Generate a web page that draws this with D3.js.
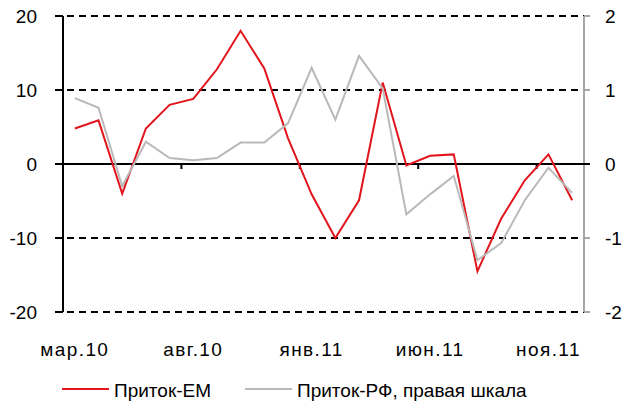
<!DOCTYPE html>
<html>
<head>
<meta charset="utf-8">
<script src="https://cdn.jsdelivr.net/npm/d3@7"></script>
<style>
  body { margin: 0; background: #fff; }
  svg { display: block; font-family: "Liberation Sans", Arial, sans-serif; }
</style>
</head>
<body>
<svg id="chart" width="623" height="403"></svg>
<script>
// months on the x axis
var months = ["мар.10", "апр.10", "май.10", "июн.10", "июл.10", "авг.10", "сен.10", "окт.10",
    "ноя.10", "дек.10", "янв.11", "фев.11", "мар.11", "апр.11", "май.11", "июн.11",
    "июл.11", "авг.11", "сен.11", "окт.11", "ноя.11", "дек.11"];

// Приток-ЕМ (left scale)
var inflowEM = [4.8, 5.9, -4.0, 4.8, 8.0, 8.8, 12.8, 18.0, 12.9, 3.5, -4.1, -10.0,
    -4.9, 11.0, -0.2, 1.1, 1.3, -14.5, -7.4, -2.2, 1.3, -4.9];

// Приток-РФ (right scale)
var inflowRF = [0.89, 0.76, -0.30, 0.30, 0.08, 0.05, 0.08, 0.29, 0.29, 0.55, 1.30, 0.60,
    1.46, 1.02, -0.68, -0.41, -0.16, -1.30, -1.07, -0.49, -0.05, -0.39];

var leftTicks = [-20, -10, 0, 10, 20];
var rightTicks = [-2, -1, 0, 1, 2];
var labelEvery = 5;

var legendNames = ["Приток-ЕМ", "Приток-РФ, правая шкала"];
var red = "#e2141c", grey = "#b9b9b9";

var svg = d3.select("#chart");
var plotLeft = 63, plotRight = 584, plotTop = 16, plotBottom = 312;

var x = d3.scaleBand().domain(months).range([plotLeft, plotRight]).padding(0);
var yL = d3.scaleLinear().domain([-20, 20]).range([plotBottom, plotTop]);
var yR = d3.scaleLinear().domain([-2, 2]).range([plotBottom, plotTop]);

var fontSize = "19px";

// dashed grid (also covers the outer tick marks)
svg.append("g").selectAll("line")
    .data(leftTicks.filter(function(d) { return d !== 0; }))
    .enter().append("line")
    .attr("x1", plotLeft - 8).attr("x2", plotRight + 6)
    .attr("y1", function(d) { return yL(d); })
    .attr("y2", function(d) { return yL(d); })
    .attr("stroke", "#000")
    .attr("stroke-width", 2)
    .attr("stroke-dasharray", "7,5");

// right axis (grey)
svg.append("line")
    .attr("x1", plotRight).attr("x2", plotRight)
    .attr("y1", plotTop).attr("y2", plotBottom)
    .attr("stroke", "#a6a6a6").attr("stroke-width", 2);
svg.append("g").selectAll("line")
    .data(rightTicks)
    .enter().append("line")
    .attr("x1", plotRight).attr("x2", plotRight + 6)
    .attr("y1", function(d) { return yR(d); })
    .attr("y2", function(d) { return yR(d); })
    .attr("stroke", "#a6a6a6").attr("stroke-width", 2);

// left axis
svg.append("line")
    .attr("x1", plotLeft).attr("x2", plotLeft)
    .attr("y1", plotTop).attr("y2", plotBottom)
    .attr("stroke", "#000").attr("stroke-width", 2);
svg.append("g").selectAll("line")
    .data(leftTicks)
    .enter().append("line")
    .attr("x1", plotLeft - 8).attr("x2", plotLeft)
    .attr("y1", function(d) { return yL(d); })
    .attr("y2", function(d) { return yL(d); })
    .attr("stroke", "#000").attr("stroke-width", 2);

// zero line / category axis
svg.append("line")
    .attr("x1", plotLeft - 8).attr("x2", plotRight + 6)
    .attr("y1", yL(0)).attr("y2", yL(0))
    .attr("stroke", "#000").attr("stroke-width", 2);

// category tick marks between groups
var tickIdx = d3.range(labelEvery, months.length, labelEvery);
svg.append("g").selectAll("line")
    .data(tickIdx)
    .enter().append("line")
    .attr("x1", function(i) { return x(months[i]); })
    .attr("x2", function(i) { return x(months[i]); })
    .attr("y1", yL(0)).attr("y2", yL(0) + 5)
    .attr("stroke", "#000").attr("stroke-width", 2);

// left labels
svg.append("g").selectAll("text")
    .data(leftTicks)
    .enter().append("text")
    .attr("x", 37)
    .attr("y", function(d) { return yL(d); })
    .attr("dy", "0.36em")
    .attr("text-anchor", "end")
    .attr("font-size", fontSize)
    .text(function(d) { return d; });

// right labels
svg.append("g").selectAll("text")
    .data(rightTicks)
    .enter().append("text")
    .attr("x", 605)
    .attr("y", function(d) { return yR(d); })
    .attr("dy", "0.36em")
    .attr("font-size", fontSize)
    .text(function(d) { return d; });

// month labels
svg.append("g").selectAll("text")
    .data(months.filter(function(d, i) { return i % labelEvery === 0; }))
    .enter().append("text")
    .attr("x", function(d) { return x(d) + x.bandwidth() / 2; })
    .attr("y", 356)
    .attr("text-anchor", "middle")
    .attr("font-size", fontSize)
    .attr("letter-spacing", "1.4px")
    .text(function(d) { return d; });

// lines
var lineL = d3.line()
    .x(function(d, i) { return x(months[i]) + x.bandwidth() / 2; })
    .y(function(d) { return yL(d); });
var lineR = d3.line()
    .x(function(d, i) { return x(months[i]) + x.bandwidth() / 2; })
    .y(function(d) { return yR(d); });

svg.append("path")
    .datum(inflowEM)
    .attr("d", lineL)
    .attr("fill", "none")
    .attr("stroke", red)
    .attr("stroke-width", 2);

svg.append("path")
    .datum(inflowRF)
    .attr("d", lineR)
    .attr("fill", "none")
    .attr("stroke", grey)
    .attr("stroke-width", 2);

// legend
var legend = [
    {name: legendNames[0], color: red, x0: 62},
    {name: legendNames[1], color: grey, x0: 245}
];
var lg = svg.append("g").selectAll("g")
    .data(legend)
    .enter().append("g");
lg.append("line")
    .attr("x1", function(d) { return d.x0; })
    .attr("x2", function(d) { return d.x0 + 47; })
    .attr("y1", 389).attr("y2", 389)
    .attr("stroke", function(d) { return d.color; })
    .attr("stroke-width", 2);
lg.append("text")
    .attr("x", function(d) { return d.x0 + 52; })
    .attr("y", 396.5)
    .attr("font-size", fontSize)
    .text(function(d) { return d.name; });
</script>
</body>
</html>
